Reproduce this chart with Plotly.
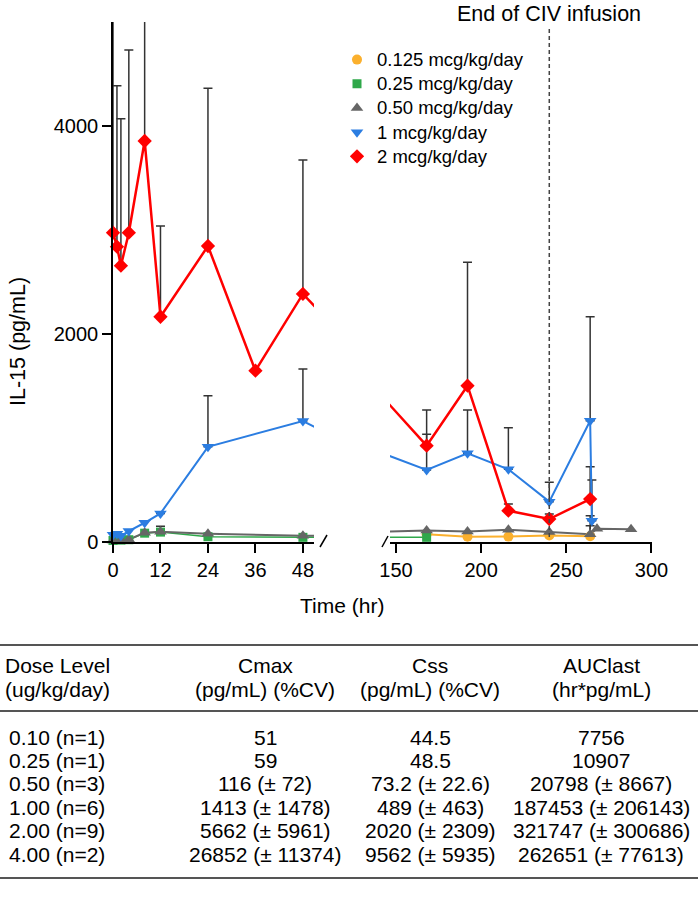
import plotly.graph_objects as go

W, H = 698, 900


def px(x):
    return x / W


def py(y):
    return 1 - y / H


# ---------------- data ----------------
series_names = ["0.125 mcg/kg/day", "0.25 mcg/kg/day", "0.50 mcg/kg/day",
                "1 mcg/kg/day", "2 mcg/kg/day"]

# 0.125 mcg/kg/day
orange_t = [168, 192, 216, 240, 264]
orange_v = [75, 50, 52, 62, 56]
orange_err = [None, None, None, None, 197]

# 0.25 mcg/kg/day
green_t = [0, 2, 4, 8, 12, 24, 48, 168]
green_v = [15, 18, 22, 85, 95, 51, 45, 45]
green_err = [None, None, None, None, None, None, None, None]

# 0.50 mcg/kg/day
gray_t = [0, 2, 4, 8, 12, 24, 48, 168, 192, 216, 240, 264, 268, 288]
gray_v = [15, 20, 25, 90, 99, 80, 60, 110, 100, 118, 95, 75, 128, 122]
gray_err = [None, None, None, None, 53, None, None, None, None, None, None, 82, None, None]

# 1 mcg/kg/day  (72 h and 144 h lie in the axis break)
blue_t = [0, 1, 2, 4, 8, 12, 24, 48, 72, 144, 168, 192, 216, 240, 264, 265]
blue_v = [70, 80, 60, 105, 185, 275, 915, 1163, 710, 841, 692, 853, 699, 388, 1166, 205]
blue_err = [None, None, None, None, None, 16, 492, 500, None, None, 343, 416, 400, 186, 1000, 391]

# 2 mcg/kg/day  (72 h and 144 h lie in the axis break)
red_t = [0, 1, 2, 4, 8, 12, 24, 36, 48, 72, 144, 168, 192, 216, 240, 264]
red_v = [2974, 2840, 2657, 2974, 3856, 2166, 2846, 1647, 2385, 1425, 1360, 926, 1503, 301, 221, 413]
red_err = [2400, 1548, 1413, 1757, 1600, 872, 1516, None, 1288, None, None, 343, 1186, 64, 48, 311]

left_ticks = [0, 12, 24, 36, 48]
right_ticks = [150, 200, 250, 300]
y_ticks = [0, 2000, 4000]
civ_end_hr = 240

table_header1 = ["Dose Level", "Cmax", "Css", "AUClast"]
table_header2 = ["(ug/kg/day)", "(pg/mL) (%CV)", "(pg/mL) (%CV)", "(hr*pg/mL)"]
dose_levels = ["0.10 (n=1)", "0.25 (n=1)", "0.50 (n=3)", "1.00 (n=6)", "2.00 (n=9)", "4.00 (n=2)"]
cmax_vals = ["51", "59", "116 (± 72)", "1413 (± 1478)", "5662 (± 5961)", "26852 (± 11374)"]
css_vals = ["44.5", "48.5", "73.2 (± 22.6)", "489 (± 463)", "2020 (± 2309)", "9562 (± 5935)"]
auc_vals = ["7756", "10907", "20798 (± 8667)", "187453 (± 206143)", "321747 (± 300686)", "262651 (± 77613)"]

# ---------------- styles ----------------
FONT = "Liberation Sans, Arial, Helvetica, sans-serif"
colors = ["#FBB02D", "#2FA84A", "#666666", "#2B7DE1", "#FF0000"]
symbols = ["circle", "square", "triangle-up", "triangle-down", "diamond"]
msizes = [10, 9, 11, 11, 11]
lwidths = [2, 1.5, 2, 2, 2.5]
TXT = 21

data = [
    (orange_t, orange_v, orange_err),
    (green_t, green_v, green_err),
    (gray_t, gray_v, gray_err),
    (blue_t, blue_v, blue_err),
    (red_t, red_v, red_err),
]

fig = go.Figure()
panels = [("x", "y"), ("x2", "y")]

# error bars (clipped to plot area)
for xa, ya in panels:
    for i, (t, v, e) in enumerate(data):
        et = [a for a, b in zip(t, e) if b is not None]
        ev = [a for a, b in zip(v, e) if b is not None]
        ee = [b for b in e if b is not None]
        if not et:
            continue
        fig.add_trace(go.Scatter(
            x=et, y=ev, xaxis=xa, yaxis=ya, mode="markers",
            marker=dict(size=1, color="rgba(0,0,0,0)"),
            error_y=dict(type="data", symmetric=False, array=ee, arrayminus=[0] * len(ee),
                         color="#333333", thickness=1.5, width=4.5),
            showlegend=False, hoverinfo="skip"))

# lines
for xa, ya in panels:
    for i, (t, v, e) in enumerate(data):
        fig.add_trace(go.Scatter(
            x=t, y=v, xaxis=xa, yaxis=ya, mode="lines",
            line=dict(color=colors[i], width=lwidths[i]),
            showlegend=False, hoverinfo="skip"))

# markers
for p, (xa, ya) in enumerate(panels):
    for i, (t, v, e) in enumerate(data):
        fig.add_trace(go.Scatter(
            x=t, y=v, xaxis=xa, yaxis=ya, mode="markers", cliponaxis=False,
            marker=dict(symbol=symbols[i], size=msizes[i], color=colors[i], line=dict(width=0)),
            name='<span style="font-size:18.5px">' + series_names[i] + '</span>',
            showlegend=(p == 0), legendgroup=series_names[i]))

axis_common = dict(showgrid=False, zeroline=False, showline=True, linecolor="black", linewidth=1.5,
                   ticks="outside", ticklen=9, tickwidth=1.5, tickcolor="black",
                   tickfont=dict(size=20, family=FONT, color="black"))

fig.update_layout(
    width=W, height=H, template="none",
    margin=dict(l=0, r=0, t=0, b=0),
    paper_bgcolor="white", plot_bgcolor="white",
    font=dict(family=FONT, size=TXT, color="black"),
    xaxis=dict(domain=[px(113), px(314)], range=[0, 50.8], tickvals=left_ticks, anchor="y", **axis_common),
    xaxis2=dict(domain=[px(390), px(652)], range=[146.5, 300.3], tickvals=right_ticks, anchor="y", **axis_common),
    yaxis=dict(domain=[py(542), py(22)], range=[0, 5000], tickvals=y_ticks, anchor="x", **axis_common),
    legend=dict(x=px(337), y=py(42.5), xanchor="left", yanchor="top", bgcolor="rgba(0,0,0,0)",
                font=dict(size=16.3, family=FONT, color="black"), itemwidth=30, tracegroupgap=0),
    showlegend=True,
)

shapes = []
# end of infusion dashed line
shapes.append(dict(type="line", xref="x2", yref="paper", x0=civ_end_hr, x1=civ_end_hr,
                   y0=py(537), y1=py(27), line=dict(color="#444444", width=1.5, dash="4px,3px")))
# axis break marks
shapes.append(dict(type="line", xref="paper", yref="paper", x0=px(320), y0=py(547), x1=px(327), y1=py(535),
                   line=dict(color="black", width=1.5)))
shapes.append(dict(type="line", xref="paper", yref="paper", x0=px(382), y0=py(547), x1=px(388), y1=py(536),
                   line=dict(color="black", width=1.5)))
# table rules
for yy in [645, 711, 878]:
    shapes.append(dict(type="line", xref="paper", yref="paper", x0=0, x1=1, y0=py(yy), y1=py(yy),
                       line=dict(color="#555555", width=2)))
fig.update_layout(shapes=shapes)

ann = []
ann.append(dict(text="End of CIV infusion", xref="x2", yref="paper", x=civ_end_hr, y=py(14),
                xanchor="center", yanchor="middle", showarrow=False, font=dict(size=21.5)))
ann.append(dict(text="IL-15 (pg/mL)", xref="paper", yref="paper", x=px(18), y=py(342), textangle=-90,
                xanchor="center", yanchor="middle", showarrow=False, font=dict(size=21.5)))
ann.append(dict(text="Time (hr)", xref="paper", yref="paper", x=px(342), y=py(605),
                xanchor="center", yanchor="middle", showarrow=False, font=dict(size=21)))

col_x = [57, 265, 430, 601]
for j in range(4):
    ann.append(dict(text=table_header1[j], xref="paper", yref="paper", x=px(col_x[j]), y=py(665),
                    xanchor="center", yanchor="middle", showarrow=False, font=dict(size=TXT)))
    ann.append(dict(text=table_header2[j], xref="paper", yref="paper", x=px(col_x[j]), y=py(689),
                    xanchor="center", yanchor="middle", showarrow=False, font=dict(size=TXT)))
cols = [dose_levels, cmax_vals, css_vals, auc_vals]
for r in range(len(dose_levels)):
    yrow = 737 + 23.4 * r
    for j in range(4):
        ann.append(dict(text=cols[j][r], xref="paper", yref="paper", x=px(col_x[j]), y=py(yrow),
                        xanchor="center", yanchor="middle", showarrow=False, font=dict(size=TXT)))
fig.update_layout(annotations=ann)

fig.write_html("out.html", config={"displayModeBar": False},
               post_script="document.body.style.margin='0px';")
